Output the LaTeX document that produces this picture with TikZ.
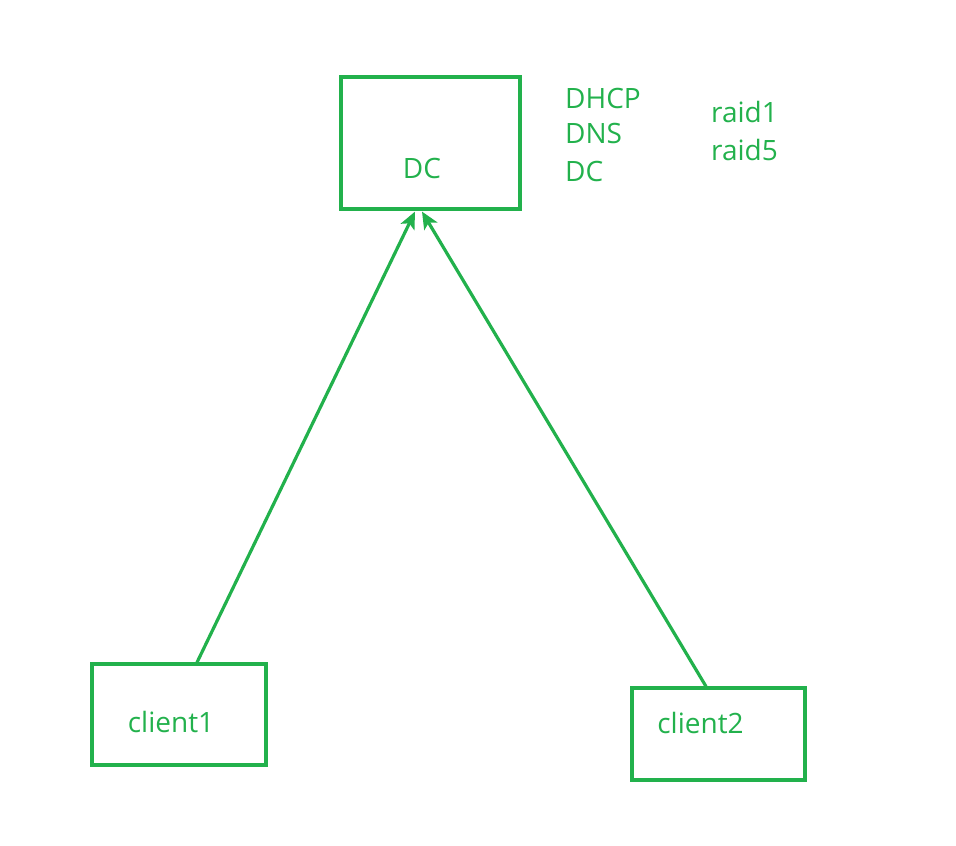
\documentclass[tikz,border=0pt]{standalone}
\usepackage{fontspec}
\setmainfont{Open Sans}
\usetikzlibrary{arrows.meta}
\definecolor{paintgreen}{RGB}{34,177,76}
\tikzset{
	box/.style={draw=paintgreen,line width=3.2pt,inner sep=0pt},
	txt/.style={text=paintgreen,font=\fontsize{28}{33}\selectfont,inner sep=0pt},
	link/.style={draw=paintgreen,line width=3.2pt,-{Stealth[length=17pt,width=15pt,inset=4pt]}}
}
\begin{document}
\begin{tikzpicture}[x=1pt,y=-1pt]
			\useasboundingbox (0,0) rectangle (956,846);
			\node [box,minimum width=179pt,minimum height=132pt] (dc) at (430.5,143) {};
			\node [box,minimum width=174pt,minimum height=101pt] (cA) at (179,714.5) {};
			\node [box,minimum width=173pt,minimum height=92pt] (cB) at (718.5,734) {};
			\node [txt] (dcname) at (422,168.5) {DC};
			\node [txt] (cAname) at (171,722) {client1};
			\node [txt] (cBname) at (700.5,722.5) {client2};
			\node [txt,anchor=west] (dhcp) at (565,98.5) {DHCP};
			\node [txt,anchor=west] (dns) at (565,133) {DNS};
			\node [txt,anchor=west] (dcrole) at (565,171) {DC};
			\node [txt,anchor=west] (rA) at (711,112) {raid1};
			\node [txt,anchor=west] (rB) at (711,150) {raid5};
			\coordinate (cAtop) at ([xshift=18pt]cA.north);
			\coordinate (cBtop) at ([xshift=-12.5pt]cB.north);
			\coordinate (dcA) at ([xshift=-15.5pt,yshift=-1pt]dc.south);
			\coordinate (dcB) at ([xshift=-8.5pt,yshift=-1pt]dc.south);
			\draw [link] (cAtop) to (dcA);
			\draw [link] (cBtop) to (dcB);
		\end{tikzpicture}
\end{document}
